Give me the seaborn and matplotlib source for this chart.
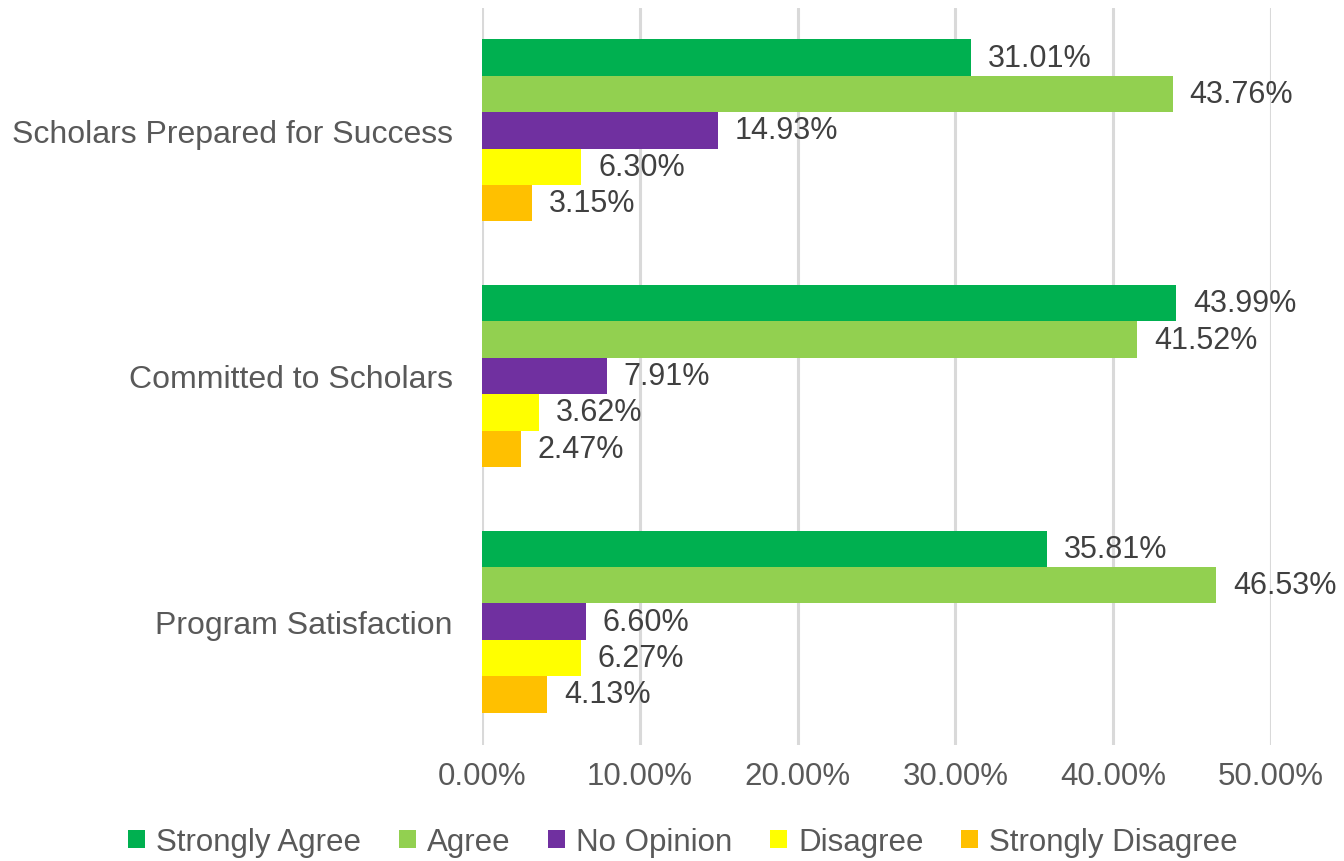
import matplotlib
matplotlib.use("Agg")
import matplotlib.pyplot as plt
import seaborn as sns
import pandas as pd
from matplotlib.patches import Patch

categories = ["Scholars Prepared for Success", "Committed to Scholars", "Program Satisfaction"]
responses = ["Strongly Agree", "Agree", "No Opinion", "Disagree", "Strongly Disagree"]
strongly_agree = [31.01, 43.99, 35.81]
agree = [43.76, 41.52, 46.53]
no_opinion = [14.93, 7.91, 6.60]
disagree = [6.30, 3.62, 6.27]
strongly_disagree = [3.15, 2.47, 4.13]
x_ticks = [0, 10, 20, 30, 40, 50]
colors = ["#00B050", "#92D050", "#7030A0", "#FFFF00", "#FFC000"]

series = [strongly_agree, agree, no_opinion, disagree, strongly_disagree]
rows = []
for resp, vals in zip(responses, series):
    for cat, v in zip(categories, vals):
        rows.append({"Category": cat, "Response": resp, "Value": v})
df = pd.DataFrame(rows)

sns.set_theme(style="white")
plt.rcParams["font.family"] = ["Liberation Sans", "DejaVu Sans"]

fig = plt.figure(figsize=(13.44, 8.62), dpi=100)
ax = fig.add_axes([482/1344, (862-745.5)/862, (1271-482)/1344, (745.5-8.5)/862])

sns.barplot(data=df, y="Category", x="Value", hue="Response", order=categories,
            hue_order=responses, palette=colors, orient="h", width=0.74,
            saturation=1, ax=ax, legend=False, zorder=3, linewidth=0)

for container in ax.containers:
    ax.bar_label(container, labels=[f"{b.get_width():.2f}%" for b in container],
                 padding=12, fontsize=22, color="#404040", clip_on=False)

ax.set_xlim(0, 50)
ax.set_xticks(x_ticks)
ax.set_xticklabels([f"{t:.2f}%" for t in x_ticks], fontsize=22.5, color="#595959")
ax.tick_params(axis="x", pad=12, length=0)
ax.tick_params(axis="y", pad=21, length=0, labelsize=23, labelcolor="#595959")
ax.set_xlabel("")
ax.set_ylabel("")
ax.xaxis.grid(True, color="#D9D9D9", linewidth=2.2, zorder=0)
ax.set_axisbelow(True)
for s in ax.spines.values():
    s.set_visible(False)

handles = [Patch(facecolor=c, edgecolor="none") for c in colors]
fig.legend(handles, responses, loc="center", bbox_to_anchor=(683/1344, 1 - 843/862),
           ncol=5, frameon=False, fontsize=22.5, handlelength=0.55, handleheight=0.55,
           handletextpad=0.35, columnspacing=1.2, labelcolor="#595959")

fig.savefig("out.png", dpi=100)
